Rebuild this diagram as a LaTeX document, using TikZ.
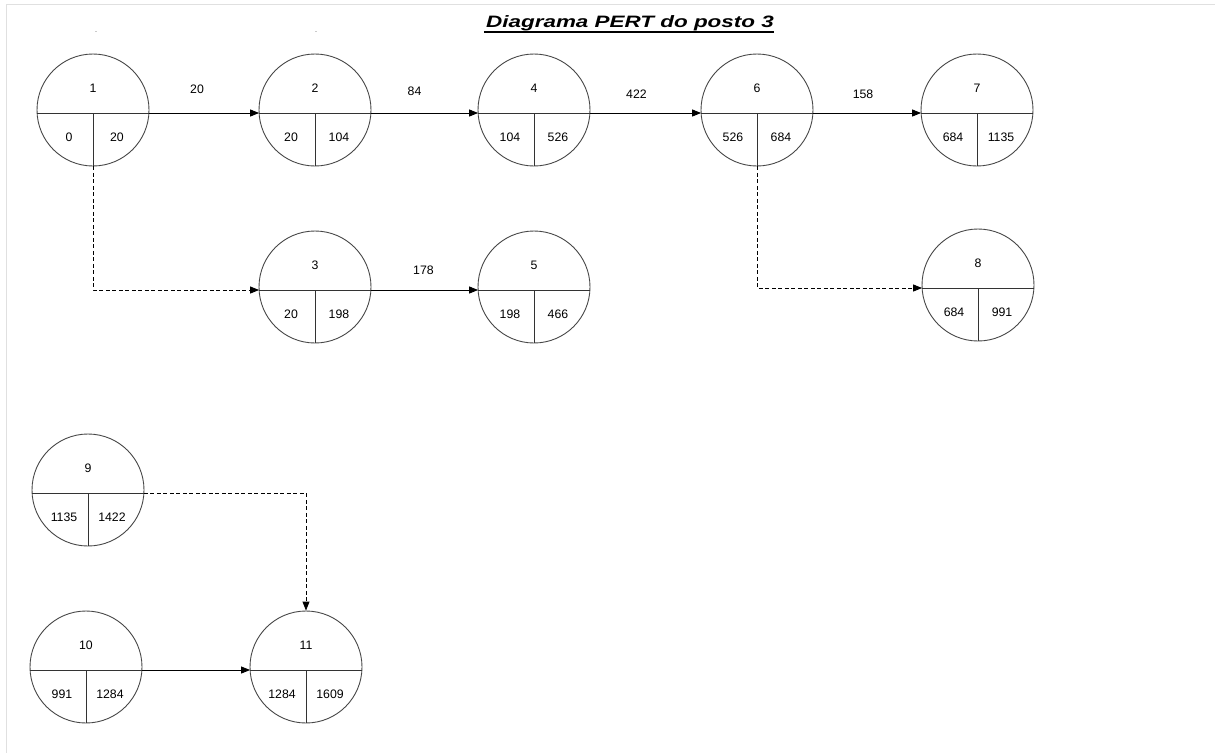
\documentclass[tikz,border=0pt]{standalone}
\usepackage{fontspec}
\setmainfont{Liberation Sans}
\usetikzlibrary{arrows.meta,calc}
\newcommand\pertnode[6]{%
  \node[pc] (#1) at (#2,#3-3) {};
  \coordinate (#1L) at (#2-55.9,#3);
  \coordinate (#1R) at (#2+55.9,#3);
  \coordinate (#1M) at (#2,#3);
  \draw[div] (#1L) -- (#1R);
  \draw[div] (#1M) -- (#1.south);
  \node[num] (#1n) at (#2,#3-25) {#4};
  \node[num] (#1e) at (#2-24,#3+24) {#5};
  \node[num] (#1f) at (#2+24,#3+24) {#6};
}
\begin{document}
\begin{tikzpicture}[x=1pt,y=-1pt,
  pc/.style={circle, draw=black!72, line width=0.9pt, minimum size=112pt, inner sep=0pt},
  num/.style={font=\fontsize{12.3}{14}\selectfont, inner sep=0pt},
  div/.style={draw=black!80, line width=0.9pt},
  arr/.style={draw=black, line width=0.9pt, -{Triangle[length=9pt,width=7pt]}},
  darr/.style={arr, dash pattern=on 4pt off 2.5pt},
  lbl/.style={font=\fontsize{12.3}{14}\selectfont, inner sep=0pt},
  tick/.style={font=\fontsize{6}{6}\selectfont, text=black!60, inner sep=0pt}]
\useasboundingbox (0,0) rectangle (1215,753);
\draw[black!12, line width=1pt] (6,753) -- (6,4) -- (1215,4);

\node[font=\bfseries\itshape\fontsize{16.5}{19}\selectfont, anchor=base, inner sep=0pt] (title) at (630,27) {\scalebox{1.36}[1]{Diagrama PERT do posto 3}};
\draw[line width=1.4pt] ($(title.base west)+(-2,5)$) -- ($(title.base east)+(0,5)$);

\node[tick] (t1) at (96,33) {-};
\node[tick] (t2) at (316,33) {-};

\pertnode{n1}{93}{113}{1}{0}{20}
\pertnode{n2}{315}{113}{2}{20}{104}
\pertnode{n4}{534}{113}{4}{104}{526}
\pertnode{n6}{757}{113}{6}{526}{684}
\pertnode{n7}{977}{113}{7}{684}{1135}
\pertnode{n3}{315}{290}{3}{20}{198}
\pertnode{n5}{534}{290}{5}{198}{466}
\pertnode{n8}{978}{288}{8}{684}{991}
\pertnode{n9}{88}{493}{9}{1135}{1422}
\pertnode{n10}{86}{670}{10}{991}{1284}
\pertnode{n11}{306}{670}{11}{1284}{1609}

\draw[arr] (n1R) -- node[lbl, midway, xshift=-7pt, yshift=24pt] {20} (n2L);
\draw[arr] (n2R) -- node[lbl, midway, xshift=-10pt, yshift=22pt] {84} (n4L);
\draw[arr] (n4R) -- node[lbl, midway, xshift=-9pt, yshift=19pt] {422} (n6L);
\draw[arr] (n6R) -- node[lbl, midway, xshift=-4pt, yshift=19pt] {158} (n7L);
\draw[arr] (n3R) -- node[lbl, midway, xshift=-1pt, yshift=20pt] {178} (n5L);
\draw[arr] (n10R) -- (n11L);
\draw[darr] (n1.south) |- (n3L);
\draw[darr] (n6.south) |- (n8L);
\draw[darr] (n9R) -| (n11.north);
\end{tikzpicture}
\end{document}
